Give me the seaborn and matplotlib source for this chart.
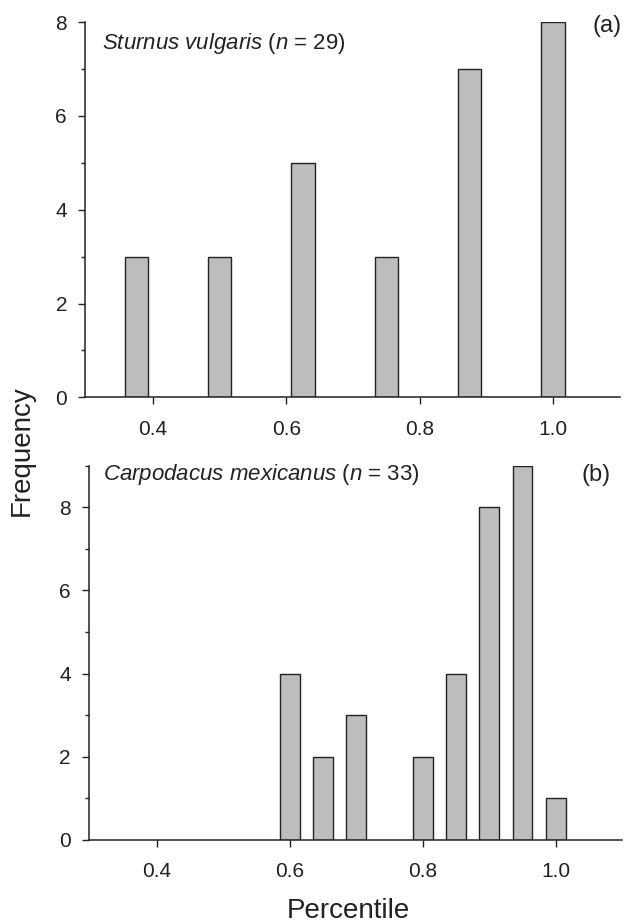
import numpy as np
import pandas as pd
import matplotlib
matplotlib.use("Agg")
import matplotlib.pyplot as plt
import seaborn as sns
from matplotlib.ticker import MultipleLocator

# Panel (a): Sturnus vulgaris
starling_pct = [0.375, 0.5, 0.625, 0.75, 0.875, 1.0]
starling_freq = [3, 3, 5, 3, 7, 8]

# Panel (b): Carpodacus mexicanus
finch_pct = [0.6, 0.65, 0.7, 0.8, 0.85, 0.9, 0.95, 1.0]
finch_freq = [4, 2, 3, 2, 4, 8, 9, 1]

xticks = [0.4, 0.6, 0.8, 1.0]
xtick_labels = ["0.4", "0.6", "0.8", "1.0"]

sns.set_style("ticks")
plt.rcParams['font.family'] = ['Liberation Sans', 'DejaVu Sans']
plt.rcParams['mathtext.fontset'] = 'custom'
plt.rcParams['mathtext.rm'] = 'Liberation Sans'
plt.rcParams['mathtext.it'] = 'Liberation Sans:italic'

fig = plt.figure(figsize=(6.26, 9.24), dpi=100)
ax1 = fig.add_axes([0.136, 0.570, 0.854, 0.406])
ax2 = fig.add_axes([0.142, 0.091, 0.852, 0.405])

bar_kw = dict(color="#bdbdbd", edgecolor="#222222", linewidth=1.0,
              saturation=1, native_scale=True)

df1 = pd.DataFrame({"pct": starling_pct, "freq": starling_freq})
sns.barplot(data=df1, x="pct", y="freq", width=0.28, ax=ax1, **bar_kw)

df2 = pd.DataFrame({"pct": finch_pct, "freq": finch_freq})
sns.barplot(data=df2, x="pct", y="freq", width=0.6, ax=ax2, **bar_kw)

for ax, ytop in [(ax1, 8), (ax2, 9)]:
    ax.set_xlim(0.298, 1.10)
    ax.set_ylim(0, ytop)
    ax.set_xticks(xticks)
    ax.set_xticklabels(xtick_labels)
    ax.yaxis.set_major_locator(MultipleLocator(2))
    ax.yaxis.set_minor_locator(MultipleLocator(1))
    ax.tick_params(axis="both", which="major", labelsize=15, length=5,
                   width=1.0, direction="out", color="#222222",
                   labelcolor="#222222")
    ax.tick_params(axis="y", which="minor", length=3, width=1.0,
                   color="#222222")
    ax.tick_params(axis="x", pad=11)
    ax.tick_params(axis="y", pad=8)
    ax.set_xlabel("")
    ax.set_ylabel("")
    for s in ["left", "bottom"]:
        ax.spines[s].set_linewidth(1.1)
        ax.spines[s].set_color("#222222")
    sns.despine(ax=ax)

ax1.text(0.032, 0.944, r"$\it{Sturnus\ vulgaris}$ ($n$ = 29)",
         transform=ax1.transAxes, fontsize=16, va="center", ha="left",
         color="#222222")
ax1.text(0.976, 0.99, "(a)", transform=ax1.transAxes, fontsize=17,
         va="center", ha="center", color="#222222")
ax2.text(0.026, 0.976, r"$\it{Carpodacus\ mexicanus}$ ($n$ = 33)",
         transform=ax2.transAxes, fontsize=16, va="center", ha="left",
         color="#222222")
ax2.text(0.95, 0.976, "(b)", transform=ax2.transAxes, fontsize=17,
         va="center", ha="center", color="#222222")

fig.text(0.556, 0.006, "Percentile", fontsize=20, va="baseline",
         ha="center", color="#222222")
fig.text(0.034, 0.512, "Frequency", rotation=90, fontsize=20,
         va="center", ha="center", color="#222222")

fig.savefig("out.png", dpi=100)
